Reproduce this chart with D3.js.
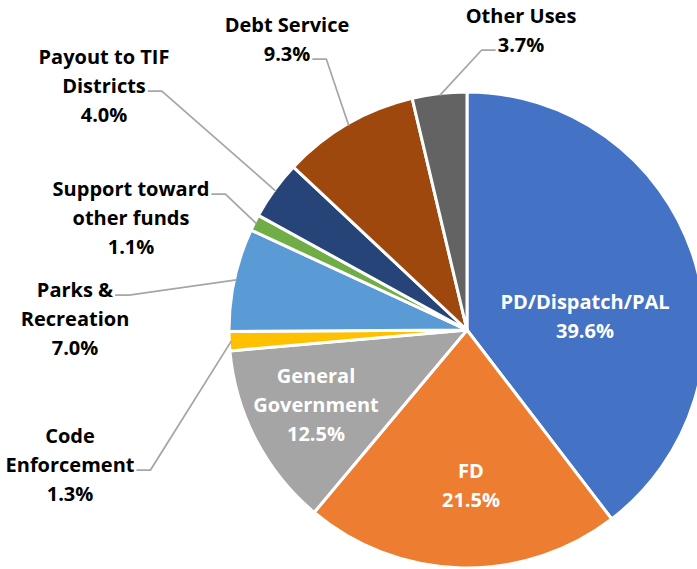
<!DOCTYPE html>
<meta charset="utf-8">
<script src="https://d3js.org/d3.v7.min.js"></script>
<style>
  body { margin: 0; background: #fff; }
  text { font-family: "Open Sans", Lato, sans-serif; font-weight: bold; font-size: 20px; }
</style>
<svg id="my_dataviz" width="697" height="569"></svg>
<script>

// Data
var categories = ["PD/Dispatch/PAL", "FD", "General Government", "Code Enforcement",
                  "Parks & Recreation", "Support toward other funds", "Payout to TIF Districts",
                  "Debt Service", "Other Uses"];
var shares = [39.6, 21.5, 12.5, 1.3, 7.0, 1.1, 4.0, 9.3, 3.7];
var labelLines = [["PD/Dispatch/PAL"], ["FD"], ["General", "Government"], ["Code", "Enforcement"],
                  ["Parks &", "Recreation"], ["Support toward", "other funds"], ["Payout to TIF", "Districts"],
                  ["Debt Service"], ["Other Uses"]];

// Colours and label placement
var colors = ["#4472C4", "#ED7D31", "#A5A5A5", "#FFC000", "#5B9BD5", "#70AD47", "#264478", "#9E480E", "#636363"];
var labelAt = [
  { x: 585, y: 309, inside: true },
  { x: 471, y: 478, inside: true },
  { x: 316, y: 383, inside: true },
  { x: 70,  y: 443, leader: 1 },
  { x: 75,  y: 297, leader: 0 },
  { x: 131, y: 196, leader: 0 },
  { x: 104, y: 64,  leader: 1 },
  { x: 287, y: 32,  leader: 1 },
  { x: 521, y: 23,  leader: 1 }
];

var svg = d3.select("svg"),
    cx = 467, cy = 330, radius = 238, lineH = 29;

var data = categories.map(function(c, i){ return { name: c, value: shares[i], i: i } });

var pie = d3.pie().sort(null).value(function(d){ return d.value });
var arc = d3.arc().innerRadius(0).outerRadius(radius);

var arcs = pie(data);

var g = svg.append("g").attr("transform", "translate(" + cx + "," + cy + ")");

g.selectAll("path")
  .data(arcs)
  .enter()
  .append("path")
    .attr("d", arc)
    .attr("fill", function(d){ return colors[d.data.i] })
    .attr("stroke", "#fff")
    .attr("stroke-width", 3)
    .attr("stroke-linejoin", "round");

// Labels
arcs.forEach(function(d){
  var i = d.data.i, pos = labelAt[i];
  var lines = labelLines[i].concat([d3.format(".1f")(d.data.value) + "%"]);
  var t = svg.append("text")
    .attr("text-anchor", "middle")
    .attr("fill", pos.inside ? "#fff" : "#000");
  lines.forEach(function(l, k){
    t.append("tspan").attr("x", pos.x).attr("y", pos.y + k * lineH).text(l);
  });
  if (pos.inside) return;

  // leader line from the text to the slice edge
  var mid = (d.startAngle + d.endAngle) / 2;
  var px = cx + (radius - 2) * Math.sin(mid),
      py = cy - (radius - 2) * Math.cos(mid);
  var w = t.selectAll("tspan").nodes()[pos.leader].getComputedTextLength();
  var ly = pos.y + pos.leader * lineH - 2;
  var sx, hx;
  if (px > pos.x) { sx = pos.x + w / 2 + 2; hx = sx + 14; }
  else { sx = pos.x - w / 2 - 2; hx = sx - 14; }
  svg.insert("path", "text")
    .attr("d", d3.line()([[sx, ly], [hx, ly], [px, py]]))
    .attr("fill", "none")
    .attr("stroke", "#A6A6A6")
    .attr("stroke-width", 1.75);
});

</script>
